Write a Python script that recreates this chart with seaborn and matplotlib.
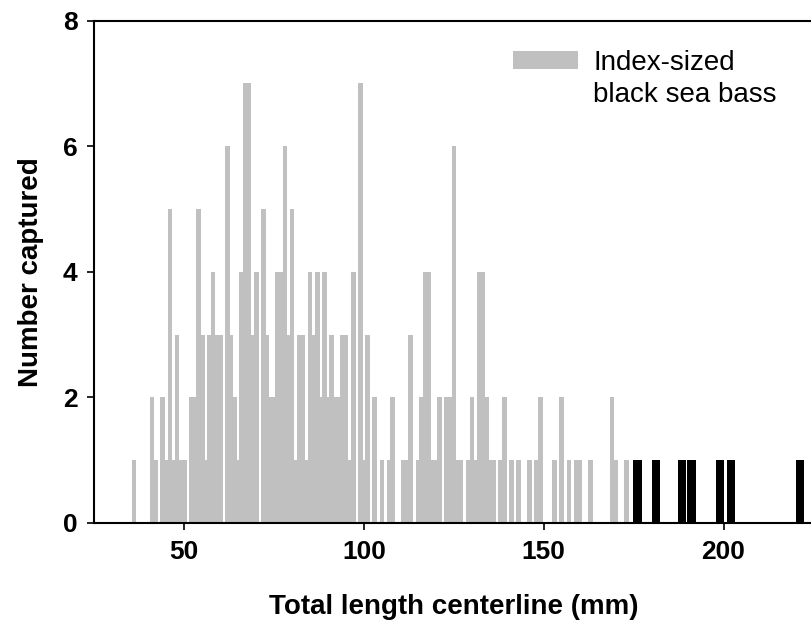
import matplotlib
matplotlib.use("Agg")
import matplotlib.pyplot as plt
from matplotlib.patches import Patch
import pandas as pd
import seaborn as sns

# Index-sized fish: total length (mm) and number captured at each length
index_lengths = [36, 41, 42, 44, 45, 46, 47, 48, 49, 50,
                 52, 53, 54, 55, 56, 57, 58, 59, 60,
                 62, 63, 64, 65, 66, 67, 68, 69, 70,
                 72, 73, 74, 75, 76, 77, 78, 79, 80, 81, 82, 83, 84, 85,
                 86, 87, 88, 89, 90, 91, 92, 93, 94, 95, 96, 97,
                 99, 100, 101, 103, 105, 107, 108,
                 111, 112, 113, 115, 116, 117, 118, 119, 120, 121,
                 123, 124, 125, 126, 127, 129, 130, 131, 132, 133, 134, 135, 136,
                 138, 139, 141, 143, 146, 148, 149, 153, 155, 157, 159, 160,
                 163, 169, 170, 173]
index_counts = [1, 2, 1, 2, 1, 5, 1, 3, 1, 1,
                2, 2, 5, 3, 1, 3, 4, 3, 3,
                6, 3, 2, 1, 4, 7, 7, 3, 4,
                5, 3, 2, 2, 4, 4, 6, 3, 5, 1, 3, 3, 1, 4,
                3, 4, 2, 4, 2, 3, 2, 2, 3, 3, 1, 4,
                7, 1, 3, 2, 1, 1, 2,
                1, 1, 3, 1, 2, 4, 4, 1, 1, 2,
                2, 2, 6, 1, 1, 1, 2, 1, 4, 4, 2, 1, 1,
                1, 2, 1, 1, 1, 1, 2, 1, 2, 1, 1, 1,
                1, 2, 1, 1]

# Larger fish beyond the index size range
large_lengths = [176.1, 181.2, 188.5, 191.1, 199.0, 202.1, 221.3]
large_counts = [1, 1, 1, 1, 1, 1, 1]

x_ticks = [50, 100, 150, 200]
y_ticks = [0, 2, 4, 6, 8]

gray = "#c0c0c0"

sns.set_style("ticks")
plt.rcParams["font.family"] = ["Liberation Sans", "DejaVu Sans"]
plt.rcParams["text.color"] = "black"
plt.rcParams["axes.labelcolor"] = "black"
plt.rcParams["xtick.color"] = "black"
plt.rcParams["ytick.color"] = "black"

fig = plt.figure(figsize=(8.12, 6.34), dpi=100)
ax = fig.add_axes([0.11626, 0.17508, 0.88547, 0.79227])

index_df = pd.DataFrame({"length": index_lengths, "count": index_counts})
large_df = pd.DataFrame({"length": large_lengths, "count": large_counts})

sns.barplot(data=index_df, x="length", y="count", native_scale=True,
            width=1.3, color=gray, saturation=1, linewidth=0,
            errorbar=None, ax=ax)
sns.barplot(data=large_df, x="length", y="count", native_scale=True,
            width=0.92, color="black", saturation=1, linewidth=0,
            errorbar=None, ax=ax)

ax.set_xlim(25, 225)
ax.set_ylim(0, 8)
ax.set_xticks(x_ticks)
ax.set_yticks(y_ticks)
ax.set_xticklabels([str(v) for v in x_ticks], fontsize=19, fontweight="bold")
ax.set_yticklabels([str(v) for v in y_ticks], fontsize=19, fontweight="bold")
ax.tick_params(axis="both", direction="out", length=5, width=1.2,
               colors="black", pad=7)

for side in ("left", "bottom", "top"):
    ax.spines[side].set_visible(True)
    ax.spines[side].set_color("black")
    ax.spines[side].set_linewidth(1.5)
ax.spines["right"].set_visible(False)

ax.set_xlabel("Total length centerline (mm)", fontsize=20,
              fontweight="bold", labelpad=22, color="black")
ax.set_ylabel("Number captured", fontsize=20, fontweight="bold",
              labelpad=14, color="black")

# Legend: gray swatch beside the first line of a two-line label
handles = [Patch(facecolor=gray, edgecolor="none"),
           Patch(facecolor="none", edgecolor="none")]
ax.legend(handles=handles, labels=["Index-sized", "black sea bass"],
          loc="upper right", bbox_to_anchor=(0.972, 0.975),
          frameon=False, fontsize=20, handlelength=2.35, handleheight=0.6,
          handletextpad=0.55, labelspacing=0.22, borderaxespad=0.2)

fig.savefig("out.png", dpi=100)
